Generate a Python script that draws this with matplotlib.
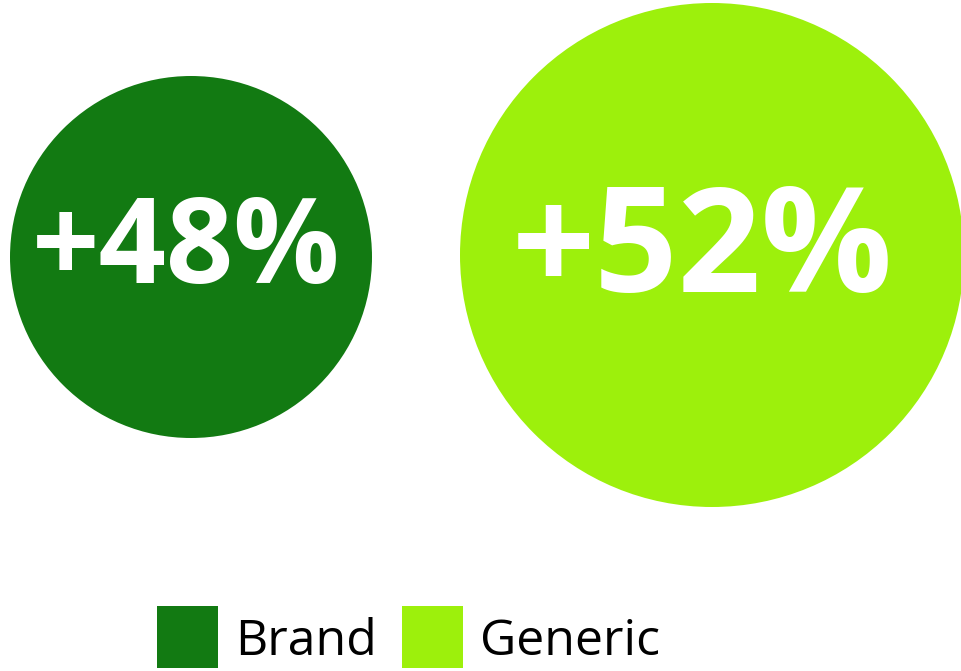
import numpy as np
import matplotlib
matplotlib.use("Agg")
import matplotlib.pyplot as plt
from matplotlib.patches import Circle, Rectangle

# Series shown as bubbles
categories = ["Brand", "Generic"]
values = [48, 52]
labels = ["+48%", "+52%"]
colors = ["#127a12", "#9df00c"]

W, H, DPI = 962, 671, 100
fig = plt.figure(figsize=(W / DPI, H / DPI), dpi=DPI)
ax = fig.add_axes([0, 0, 1, 1])
ax.set_xlim(0, W)
ax.set_ylim(H, 0)
ax.set_aspect("equal")
ax.axis("off")

# Linear size scale: value domain -> bubble radius (px)
dom = (min(values), max(values))
rng = (181, 252)
def radius(v):
    return rng[0] + (v - dom[0]) * (rng[1] - rng[0]) / (dom[1] - dom[0])

centers = [(191, 257), (712, 255)]
fontsizes = [85, 105]
baseline_off = [26, 37]
text_dx = [-5, -10]

for cat, v, lab, col, (cx, cy), fs, bo, dx in zip(categories, values, labels, colors,
                                                   centers, fontsizes, baseline_off, text_dx):
    r = radius(v)
    ax.add_patch(Circle((cx, cy), r, facecolor=col, edgecolor="none"))
    ax.text(cx + dx, cy + bo, lab, ha="center", va="baseline",
            color="white", fontsize=fs, fontweight="bold", family=["Open Sans", "DejaVu Sans"])

# Legend
leg_x = [157, 402]
for cat, col, lx in zip(categories, colors, leg_x):
    ax.add_patch(Rectangle((lx, 606), 61, 62, facecolor=col, edgecolor="none"))
    ax.text(lx + 78, 655, cat, ha="left", va="baseline", color="black",
            fontsize=36, family=["Open Sans", "DejaVu Sans"])

fig.savefig("out.png", dpi=DPI)
